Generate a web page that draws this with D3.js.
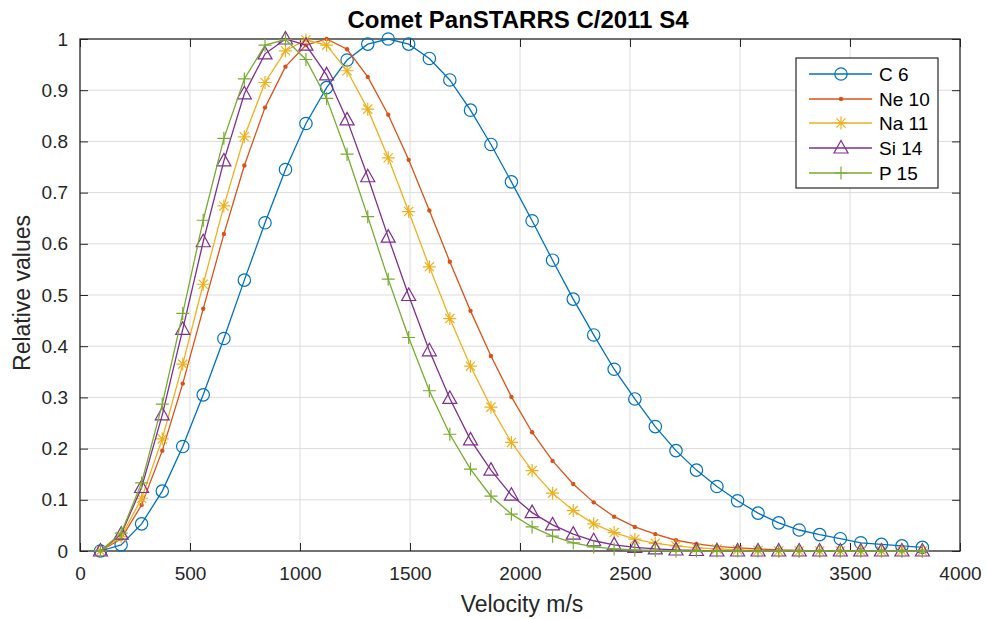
<!DOCTYPE html>
<html>
<head>
<meta charset="utf-8">
<script src="https://cdn.jsdelivr.net/npm/d3@7"></script>
<style>
  html, body { margin: 0; padding: 0; background: #fff; }
  svg { display: block; font-family: "Liberation Sans", Arial, Helvetica, sans-serif; }
</style>
</head>
<body>
<svg id="chart" width="987" height="619"></svg>
<script>
// ---- data ----
const velocity = [93, 187, 280, 374, 467, 560, 654, 747, 841, 934, 1027, 1121, 1214, 1308, 1401, 1494, 1588, 1681, 1775, 1868, 1961, 2055, 2148, 2242, 2335, 2428, 2522, 2615, 2709, 2802, 2895, 2989, 3082, 3176, 3269, 3362, 3456, 3549, 3643, 3736, 3829];

const c6 = [0, 0.012, 0.053, 0.117, 0.204, 0.305, 0.415, 0.529, 0.641, 0.745, 0.835, 0.905, 0.959, 0.990, 1.0, 0.990, 0.962, 0.920, 0.861, 0.794, 0.721, 0.645, 0.568, 0.492, 0.422, 0.355, 0.297, 0.243, 0.196, 0.158, 0.126, 0.098, 0.074, 0.055, 0.041, 0.032, 0.024, 0.016, 0.013, 0.010, 0.007];
const ne10 = [0, 0.024, 0.090, 0.196, 0.327, 0.473, 0.619, 0.753, 0.866, 0.946, 0.988, 1.0, 0.980, 0.926, 0.852, 0.764, 0.665, 0.565, 0.469, 0.381, 0.301, 0.232, 0.176, 0.131, 0.095, 0.067, 0.047, 0.033, 0.021, 0.014, 0.009, 0.006, 0.004, 0.002, 0.001, 0, 0, 0, 0, 0, 0];
const na11 = [0, 0.028, 0.103, 0.219, 0.365, 0.521, 0.674, 0.809, 0.915, 0.977, 0.998, 0.988, 0.938, 0.863, 0.768, 0.663, 0.555, 0.454, 0.361, 0.281, 0.212, 0.157, 0.113, 0.079, 0.053, 0.036, 0.023, 0.015, 0.010, 0.006, 0.004, 0.002, 0.001, 0, 0, 0, 0, 0, 0, 0, 0];
const si14 = [0, 0.033, 0.124, 0.266, 0.433, 0.604, 0.762, 0.893, 0.971, 1.0, 0.988, 0.930, 0.842, 0.731, 0.613, 0.499, 0.391, 0.298, 0.217, 0.158, 0.109, 0.075, 0.051, 0.033, 0.020, 0.012, 0.007, 0.004, 0.002, 0.001, 0, 0, 0, 0, 0, 0, 0, 0, 0, 0, 0];
const p15 = [0, 0.035, 0.133, 0.287, 0.464, 0.646, 0.806, 0.922, 0.988, 0.999, 0.960, 0.884, 0.775, 0.653, 0.531, 0.417, 0.313, 0.228, 0.160, 0.107, 0.072, 0.047, 0.029, 0.016, 0.008, 0.004, 0.002, 0.001, 0, 0, 0, 0, 0, 0, 0, 0, 0, 0, 0, 0, 0];

const seriesNames = ["C 6", "Ne 10", "Na 11", "Si 14", "P 15"];
const seriesColors = ["#0072BD", "#D95319", "#EDB120", "#7E2F8E", "#77AC30"];
const seriesMarkers = ["circle", "dot", "star", "triangle", "plus"];
const seriesValues = [c6, ne10, na11, si14, p15];

const xTicks = [0, 500, 1000, 1500, 2000, 2500, 3000, 3500, 4000];
const yTicks = [0, 0.1, 0.2, 0.3, 0.4, 0.5, 0.6, 0.7, 0.8, 0.9, 1];

const titleText = "Comet PanSTARRS C/2011 S4";
const xLabel = "Velocity m/s";
const yLabel = "Relative values";

// ---- layout ----
const L = 80, R = 960, T = 39, B = 551;
const svg = d3.select("#chart");
const x = d3.scaleLinear().domain([0, 4000]).range([L, R]);
const y = d3.scaleLinear().domain([0, 1]).range([B, T]);
const axisColor = "#262626";
const tickLen = 8;

// grid
const grid = svg.append("g");
grid.selectAll("line.vx").data(xTicks.slice(1, -1)).enter().append("line")
  .attr("x1", d => x(d)).attr("x2", d => x(d)).attr("y1", T).attr("y2", B)
  .attr("stroke", "#dcdcdc").attr("stroke-width", 1);
grid.selectAll("line.hy").data(yTicks.slice(1, -1)).enter().append("line")
  .attr("x1", L).attr("x2", R).attr("y1", d => y(d)).attr("y2", d => y(d))
  .attr("stroke", "#dcdcdc").attr("stroke-width", 1);

// axes with inward ticks
const fmtY = d => (d === 0 ? "0" : d === 1 ? "1" : d3.format(".1f")(d));
const xAxisB = d3.axisBottom(x).tickValues(xTicks).tickSizeInner(-tickLen).tickSizeOuter(0).tickPadding(16).tickFormat(d3.format("d"));
const xAxisT = d3.axisTop(x).tickValues(xTicks).tickSizeInner(-tickLen).tickSizeOuter(0).tickFormat("");
const yAxisL = d3.axisLeft(y).tickValues(yTicks).tickSizeInner(-tickLen).tickSizeOuter(0).tickPadding(12).tickFormat(fmtY);
const yAxisR = d3.axisRight(y).tickValues(yTicks).tickSizeInner(-tickLen).tickSizeOuter(0).tickFormat("");

function styleAxis(g) {
  g.select(".domain").remove();
  g.selectAll(".tick line").attr("stroke", axisColor).attr("stroke-width", 1);
  g.selectAll(".tick text").attr("fill", axisColor).style("font-size", "19px")
    .style("font-family", '"Liberation Sans", Arial, sans-serif');
}
svg.append("g").attr("transform", `translate(0,${B})`).call(xAxisB).call(styleAxis);
svg.append("g").attr("transform", `translate(0,${T})`).call(xAxisT).call(styleAxis);
svg.append("g").attr("transform", `translate(${L},0)`).call(yAxisL).call(styleAxis);
svg.append("g").attr("transform", `translate(${R},0)`).call(yAxisR).call(styleAxis);

// box
svg.append("rect").attr("x", L).attr("y", T).attr("width", R - L).attr("height", B - T)
  .attr("fill", "none").attr("stroke", axisColor).attr("stroke-width", 1.3);

// marker drawing
function drawMarker(g, type, color, cx, cy) {
  if (type === "circle") {
    g.append("circle").attr("cx", cx).attr("cy", cy).attr("r", 6.2)
      .attr("fill", "none").attr("stroke", color).attr("stroke-width", 1.2);
  } else if (type === "dot") {
    g.append("circle").attr("cx", cx).attr("cy", cy).attr("r", 2.2).attr("fill", color);
  } else if (type === "star") {
    const a = 6.5, b = 4.6;
    const p = `M${cx - a},${cy}L${cx + a},${cy}M${cx},${cy - a}L${cx},${cy + a}` +
      `M${cx - b},${cy - b}L${cx + b},${cy + b}M${cx - b},${cy + b}L${cx + b},${cy - b}`;
    g.append("path").attr("d", p).attr("stroke", color).attr("stroke-width", 1.2).attr("fill", "none");
  } else if (type === "triangle") {
    const w = 7, h1 = 7.5, h2 = 5;
    g.append("path").attr("d", `M${cx},${cy - h1}L${cx + w},${cy + h2}L${cx - w},${cy + h2}Z`)
      .attr("stroke", color).attr("stroke-width", 1.2).attr("fill", "none");
  } else if (type === "plus") {
    const a = 6.5;
    g.append("path").attr("d", `M${cx - a},${cy}L${cx + a},${cy}M${cx},${cy - a}L${cx},${cy + a}`)
      .attr("stroke", color).attr("stroke-width", 1.2).attr("fill", "none");
  }
}

// series
const line = d3.line().x(d => x(d[0])).y(d => y(d[1]));
seriesValues.forEach((vals, i) => {
  const pts = velocity.map((v, j) => [v, vals[j]]);
  const g = svg.append("g");
  g.append("path").datum(pts).attr("d", line).attr("fill", "none")
    .attr("stroke", seriesColors[i]).attr("stroke-width", 1.3);
  pts.forEach(p => drawMarker(g, seriesMarkers[i], seriesColors[i], x(p[0]), y(p[1])));
});

// title and labels
svg.append("text").attr("x", 518).attr("y", 28).attr("text-anchor", "middle")
  .style("font-size", "24px").style("font-weight", "bold").attr("fill", "#000").text(titleText);
svg.append("text").attr("x", 522).attr("y", 612).attr("text-anchor", "middle")
  .style("font-size", "23px").attr("fill", axisColor).text(xLabel);
svg.append("text").attr("transform", `translate(30,${(T + B) / 2 - 2}) rotate(-90)`).attr("text-anchor", "middle")
  .style("font-size", "23px").attr("fill", axisColor).text(yLabel);

// legend
const lg = svg.append("g");
lg.append("rect").attr("x", 796).attr("y", 58).attr("width", 142).attr("height", 130)
  .attr("fill", "#fff").attr("stroke", axisColor).attr("stroke-width", 1.2);
const rowY = [74, 99, 123, 148, 173];
seriesNames.forEach((name, i) => {
  const yy = rowY[i];
  lg.append("line").attr("x1", 809).attr("x2", 872).attr("y1", yy).attr("y2", yy)
    .attr("stroke", seriesColors[i]).attr("stroke-width", 1.3);
  drawMarker(lg, seriesMarkers[i], seriesColors[i], 841, yy);
  lg.append("text").attr("x", 879).attr("y", yy + 7).style("font-size", "19px")
    .attr("fill", "#000").text(name);
});
</script>
</body>
</html>
